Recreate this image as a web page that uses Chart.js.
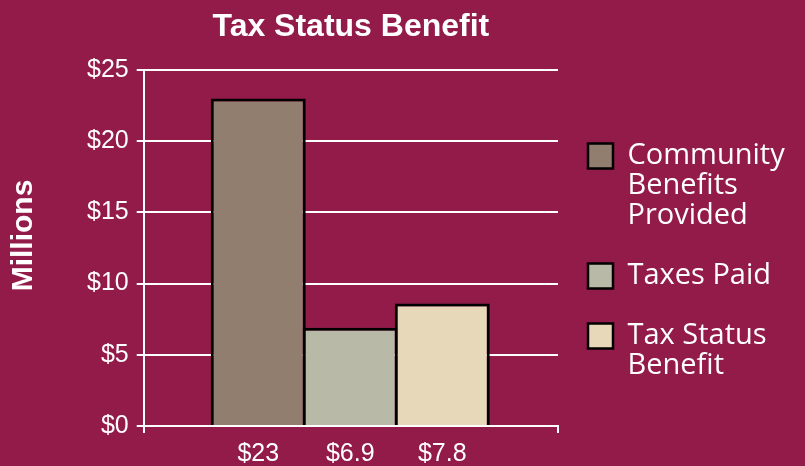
<!DOCTYPE html>
<html>
<head>
<meta charset="utf-8">
<title>Tax Status Benefit</title>
<script src="https://cdn.jsdelivr.net/npm/chart.js@4"></script>
<style>
    html, body { margin: 0; padding: 0; background: #931b4a; }
    #chart { display: block; }
</style>
</head>
<body>
<canvas id="chart" width="805" height="466"></canvas>
<script>
// Bars, one per category, placed at x = 1, 2, 3 on a linear axis
const categories   = ["Community Benefits Provided", "Taxes Paid", "Tax Status Benefit"];
const legendLines  = [["Community", "Benefits", "Provided"], ["Taxes Paid"], ["Tax Status", "Benefit"]];
const barValues    = [23, 6.9, 8.6];
const xTickLabels  = ["$23", "$6.9", "$7.8"];
const yTickValues  = [0, 5, 10, 15, 20, 25];
const barColors    = ["#917e6e", "#b9b9a8", "#e6d8b9"];

const WHITE   = "#ffffff";
const X_MIN   = -0.245;
const X_MAX   = 4.258;

Chart.defaults.font.family = "'Liberation Sans', Arial, sans-serif";
Chart.defaults.color = WHITE;

/**
 * Legend entries built from the category names.
 */
function legendItems()
{
    return categories.map((name, i) => ({
        text:        legendLines[i],
        fillStyle:   barColors[i],
        strokeStyle: "#000000",
        lineWidth:   2.5,
        fontColor:   WHITE,
        hidden:      false,
        index:       i,
    }));
}

/**
 * The layout caps a side legend at a quarter of the width, which would
 * clip the long labels. Let the legend reach the canvas edge instead.
 */
const legendReach = {
    id: "legendReach",
    afterLayout(chart)
    {
        const legend = chart.legend;

        legend.right = chart.width;
        legend.width = legend.right - legend.left;
    },
};

new Chart(document.getElementById("chart"), {
    type: "bar",
    plugins: [legendReach],
    data: {
        labels: categories,
        datasets: [{
            label: "Millions",
            data: barValues.map((v, i) => ({ x: i + 1, y: v })),
            backgroundColor: barColors,
            borderColor: "#000000",
            borderWidth: 3,
            barPercentage: 1.0325,
            categoryPercentage: 1,
        }],
    },
    options: {
        responsive: false,
        animation: false,
        devicePixelRatio: 1,
        layout: { padding: { left: 0, right: 61, top: 0, bottom: -9 } },
        scales: {
            x: {
                type: "linear",
                min: X_MIN,
                max: X_MAX,
                offset: false,
                z: 1,
                afterBuildTicks: (scale) => {
                    scale.ticks = [X_MIN, 1, 2, 3, X_MAX].map(v => ({ value: v }));
                },
                grid: {
                    offset: false,
                    drawOnChartArea: false,
                    tickLength: 7,
                    lineWidth: 2,
                    tickColor: (ctx) => (ctx.index === 0 || ctx.index === 4) ? WHITE : "rgba(0,0,0,0)",
                },
                border: { color: WHITE, width: 2 },
                ticks: {
                    autoSkip: false,
                    maxRotation: 0,
                    padding: 8,
                    color: WHITE,
                    font: { size: 25, lineHeight: 1.04 },
                    callback: (value, index) => (index >= 1 && index <= 3) ? xTickLabels[index - 1] : "",
                },
            },
            y: {
                min: 0,
                max: 25,
                afterBuildTicks: (scale) => {
                    scale.ticks = yTickValues.map(v => ({ value: v }));
                },
                grid: {
                    color: WHITE,
                    lineWidth: 2,
                    tickLength: 7,
                },
                border: { color: WHITE, width: 2 },
                ticks: {
                    padding: 8,
                    color: WHITE,
                    font: { size: 25 },
                    callback: (value) => "$" + value,
                },
                title: {
                    display: true,
                    text: "   Millions",
                    color: WHITE,
                    font: { size: 30, weight: "bold" },
                    padding: { top: 6, bottom: 37 },
                },
            },
        },
        plugins: {
            title: {
                display: true,
                text: "Tax Status Benefit",
                color: WHITE,
                fullSize: false,
                font: { size: 32, weight: "bold" },
                padding: { top: 8, bottom: 23.6 },
            },
            legend: {
                position: "right",
                align: "center",
                title: {
                    display: true,
                    text: "",
                    padding: { top: 33.6, bottom: 0 },
                },
                labels: {
                    color: WHITE,
                    boxWidth: 25,
                    boxHeight: 25,
                    padding: 30,
                    font: { family: "'Open Sans', sans-serif", size: 29, lineHeight: 1.035 },
                    generateLabels: legendItems,
                },
                onClick: null,
            },
            tooltip: { enabled: false },
        },
    },
});
</script>
</body>
</html>
